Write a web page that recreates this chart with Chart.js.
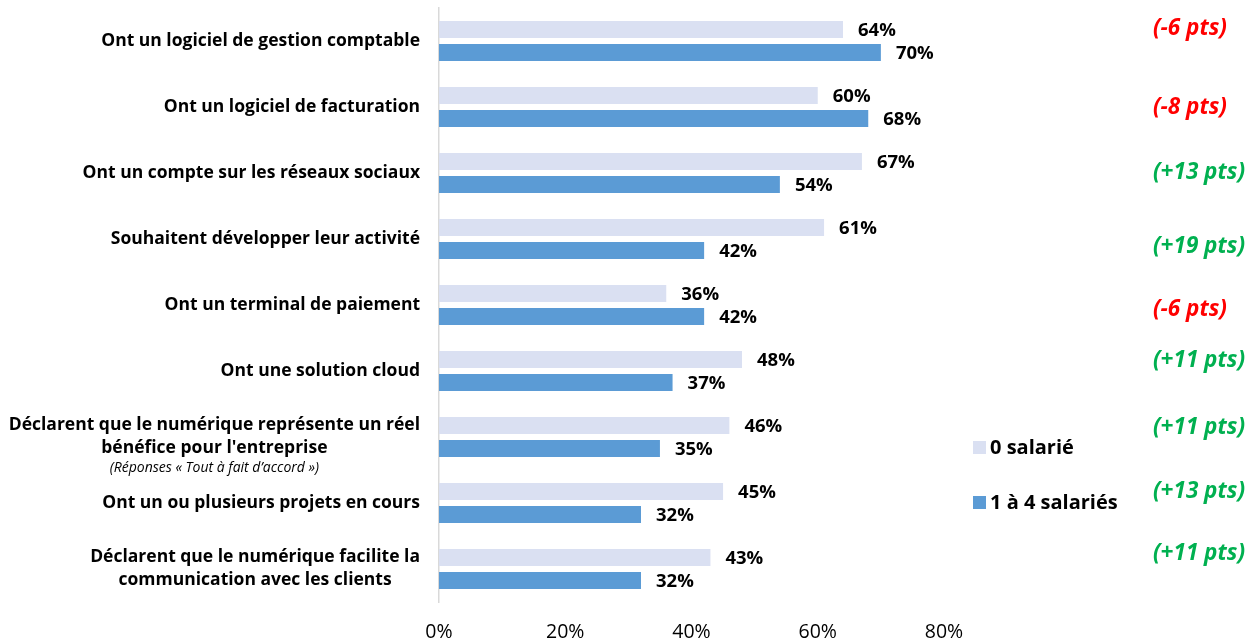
<!DOCTYPE html>
<html>
<head>
<meta charset="utf-8">
<script src="https://cdn.jsdelivr.net/npm/chart.js@4"></script>
<style>
  html, body { margin: 0; padding: 0; background: #fff; }
  #wrap { width: 1252px; height: 642px; }
</style>
</head>
<body>
<div id="wrap"><canvas id="myChart" width="1252" height="642"></canvas></div>
<script>
const categories = [
    'Ont un logiciel de gestion comptable',
    'Ont un logiciel de facturation',
    'Ont un compte sur les réseaux sociaux',
    'Souhaitent développer leur activité',
    'Ont un terminal de paiement',
    'Ont une solution cloud',
    ['Déclarent que le numérique représente un réel', "bénéfice pour l'entreprise"],
    'Ont un ou plusieurs projets en cours',
    ['Déclarent que le numérique facilite la', 'communication avec les clients']
];
const subNotes = ['', '', '', '', '', '', '(Réponses « Tout à fait d’accord »)', '', ''];
const seriesNames = ['0 salarié', '1 à 4 salariés'];
const zeroSalarie = [64, 60, 67, 61, 36, 48, 46, 45, 43];
const unAQuatre = [70, 68, 54, 42, 42, 37, 35, 32, 32];
const ecarts = ['(-6 pts)', '(-8 pts)', '(+13 pts)', '(+19 pts)', '(-6 pts)', '(+11 pts)', '(+11 pts)', '(+13 pts)', '(+11 pts)'];
const xTicks = [0, 20, 40, 60, 80];

const FONT = '"Open Sans", "Noto Sans", sans-serif';
const colors = ['#DAE0F2', '#5B9BD5'];

// little vertical shifts of the gap notes, as in the original slide
const noteShift = [-12, 1, 0, 8, 5, -10, -9, -11, -15];

const drawExtras = {
    id: 'drawExtras',
    afterDraw(chart) {
        const c = chart.ctx;
        const y = chart.scales.y;
        c.save();
        c.textBaseline = 'middle';

        // category labels, lines centred on each other, block right aligned
        categories.forEach((lab, i) => {
            const lines = Array.isArray(lab) ? lab : [lab];
            const cy = y.getPixelForValue(i);
            c.font = 'bold 17.5px ' + FONT;
            const w = Math.max(...lines.map(l => c.measureText(l).width));
            const right = 420;
            const mid = right - w / 2;
            const lh = 23;
            const top = cy - (lines.length - 1) * lh / 2;
            c.fillStyle = '#000';
            c.textAlign = 'center';
            lines.forEach((l, k) => c.fillText(l, mid, top + k * lh));
            if (subNotes[i]) {
                c.font = 'italic 14px ' + FONT;
                c.fillText(subNotes[i], mid, top + (lines.length - 1) * lh + 20);
            }
        });

        // value labels
        c.font = 'bold 18.5px ' + FONT;
        c.textAlign = 'left';
        c.fillStyle = '#000';
        chart.data.datasets.forEach((ds, d) => {
            chart.getDatasetMeta(d).data.forEach((bar, i) => {
                c.fillText(ds.data[i] + '%', bar.x + 15, bar.y + 1);
            });
        });

        // gap notes on the right
        c.font = 'italic bold 22.5px ' + FONT;
        ecarts.forEach((t, i) => {
            c.fillStyle = t.indexOf('-') >= 0 ? '#FF0000' : '#00B050';
            c.fillText(t, 1153, y.getPixelForValue(i) + noteShift[i]);
        });

        // legend
        c.font = 'bold 20px ' + FONT;
        [448, 503].forEach((ly, d) => {
            c.fillStyle = colors[d];
            c.fillRect(973, ly - 7, 13, 13);
            c.fillStyle = '#000';
            c.fillText(seriesNames[d], 990, ly);
        });
        c.restore();
    }
};

const ctx = document.getElementById('myChart').getContext('2d');
const myChart = new Chart(ctx, {
    type: 'bar',
    data: {
        labels: categories,
        datasets: [{
            label: seriesNames[0],
            data: zeroSalarie,
            backgroundColor: colors[0],
            barPercentage: 0.74,
            categoryPercentage: 0.7
        }, {
            label: seriesNames[1],
            data: unAQuatre,
            backgroundColor: colors[1],
            barPercentage: 0.74,
            categoryPercentage: 0.7
        }]
    },
    options: {
        indexAxis: 'y',
        responsive: false,
        animation: false,
        layout: { padding: { left: 439, right: 308, top: 8, bottom: 0 } },
        plugins: {
            legend: { display: false },
            tooltip: { enabled: false }
        },
        scales: {
            x: {
                min: 0,
                max: 80,
                afterBuildTicks: s => { s.ticks = xTicks.map(v => ({ value: v })); },
                afterFit: s => { s.height = 40; },
                grid: { display: false, drawTicks: false },
                border: { display: false },
                ticks: {
                    padding: 19,
                    color: '#000',
                    font: { family: FONT, size: 19.5 },
                    callback: v => v + '%'
                }
            },
            y: {
                afterFit: s => { s.width = 0; },
                grid: { display: false, drawTicks: false },
                border: { display: true, color: '#D9D9D9', width: 1.5 },
                ticks: { display: false }
            }
        }
    },
    plugins: [drawExtras]
});
</script>
</body>
</html>
